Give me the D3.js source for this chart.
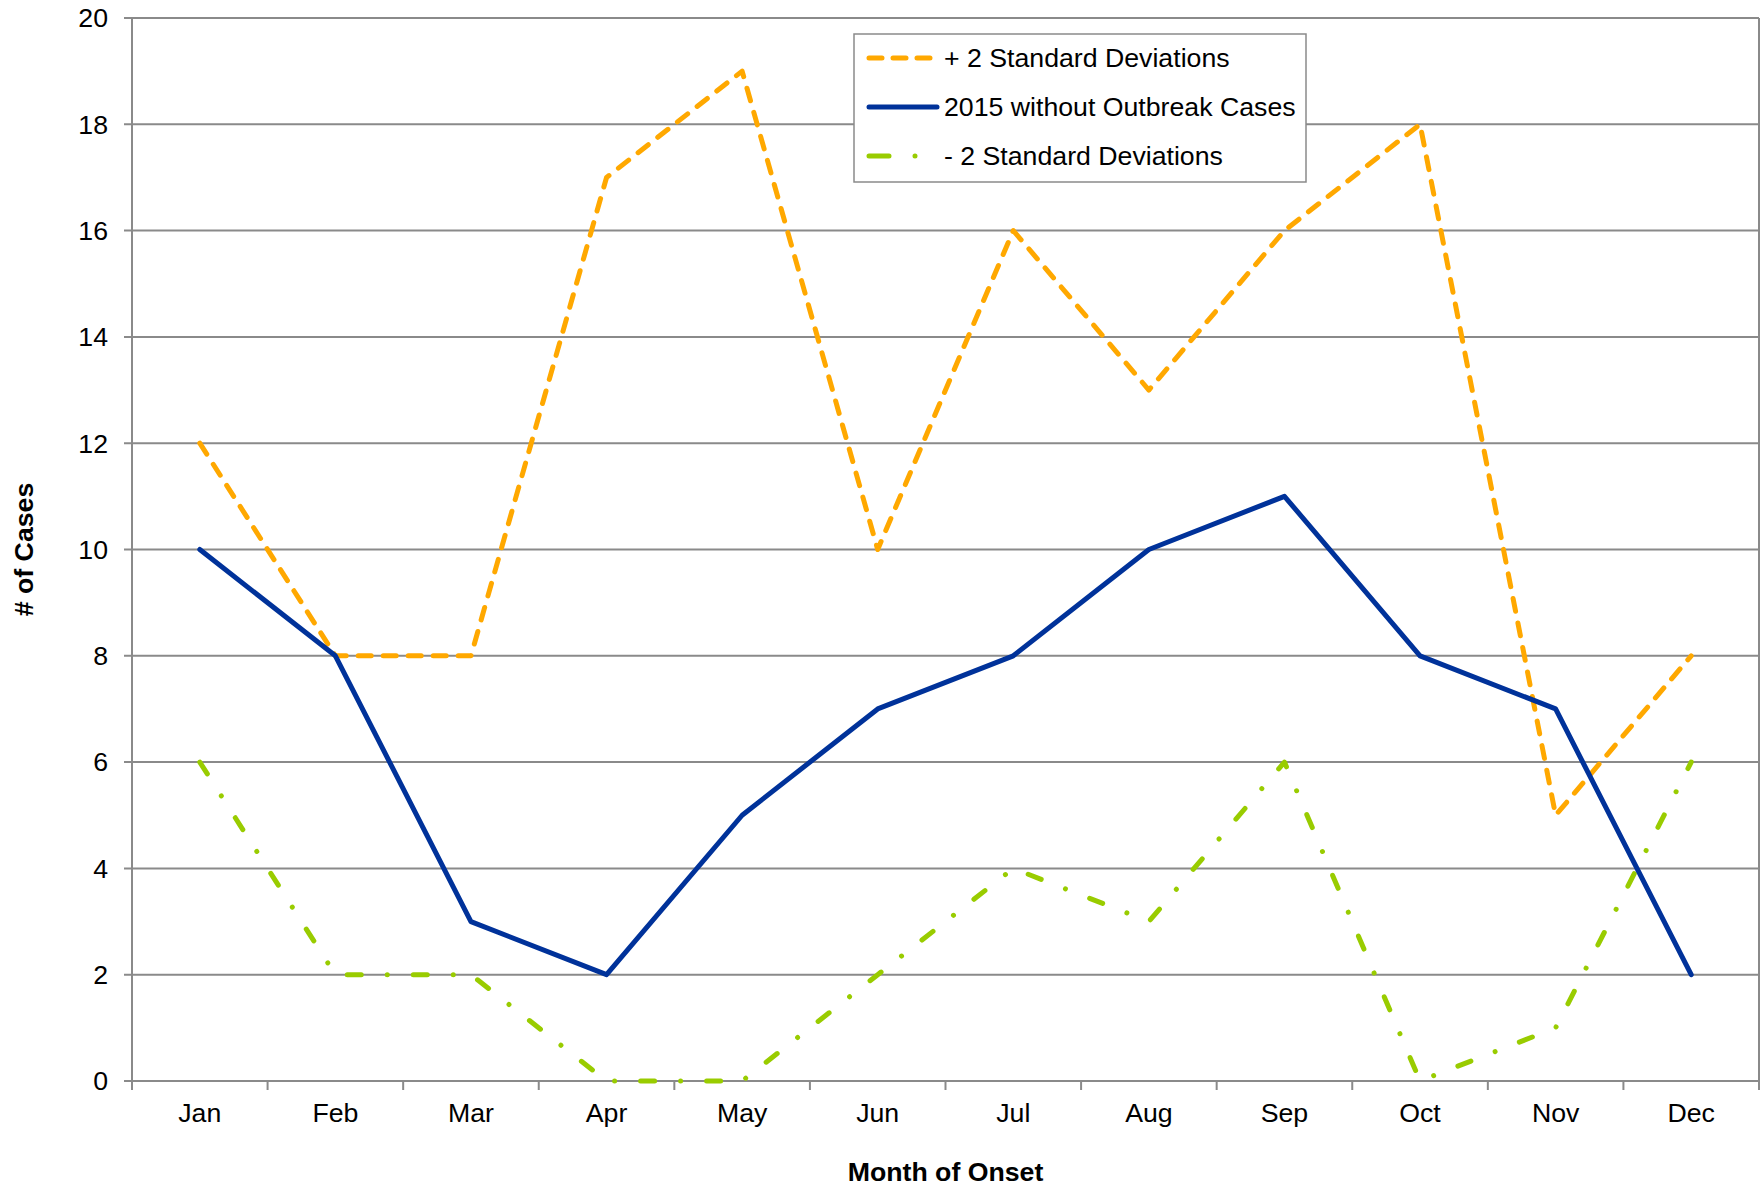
<!DOCTYPE html>
<html><head><meta charset="utf-8">
<script src="https://cdn.jsdelivr.net/npm/d3@7"></script>
<style>body{margin:0;background:#fff}svg{display:block}text{font-family:"Liberation Sans",Arial,sans-serif;fill:#000}</style>
</head><body>
<script>
const months = ["Jan","Feb","Mar","Apr","May","Jun","Jul","Aug","Sep","Oct","Nov","Dec"];
const plus2SD = [12,8,8,17,19,10,16,13,16,18,5,8];
const cases2015 = [10,8,3,2,5,7,8,10,11,8,7,2];
const minus2SD = [6,2,2,0,0,2,4,3,6,0,1,6];
const yTicks = [0,2,4,6,8,10,12,14,16,18,20];
const seriesNames = ["+ 2 Standard Deviations","2015 without Outbreak Cases","- 2 Standard Deviations"];

const W=1760,H=1188;
const L=132,R=1759,T=18,B=1081;
const FS=26.7;
const svg=d3.select("body").append("svg").attr("width",W).attr("height",H);
const x=d3.scaleBand().domain(months).range([L,R]).padding(0);
const y=d3.scaleLinear().domain([0,20]).range([B,T]);
const grid="#8a8a8a";

svg.append("g").selectAll("line").data(yTicks).join("line")
  .attr("x1",L-8).attr("x2",R).attr("y1",d=>y(d)).attr("y2",d=>y(d))
  .attr("stroke",grid).attr("stroke-width",2);
svg.append("line").attr("x1",R).attr("x2",R).attr("y1",T).attr("y2",B).attr("stroke",grid).attr("stroke-width",2);
svg.append("line").attr("x1",L).attr("x2",L).attr("y1",T).attr("y2",B+9).attr("stroke",grid).attr("stroke-width",2);
const edges=months.map(m=>x(m)).concat([R]);
svg.append("g").selectAll("line").data(edges).join("line")
  .attr("x1",d=>d).attr("x2",d=>d).attr("y1",B).attr("y2",B+9)
  .attr("stroke",grid).attr("stroke-width",2);
svg.append("g").selectAll("text").data(yTicks).join("text")
  .attr("x",108).attr("y",d=>y(d)).attr("dy","0.35em").attr("text-anchor","end")
  .attr("font-size",FS).text(d=>d);
svg.append("g").selectAll("text").data(months).join("text")
  .attr("x",d=>x(d)+x.bandwidth()/2).attr("y",1122).attr("text-anchor","middle")
  .attr("font-size",FS).text(d=>d);
svg.append("text").attr("x",(L+R)/2).attr("y",1181).attr("text-anchor","middle")
  .attr("font-size",FS).attr("font-weight","bold").text("Month of Onset");
svg.append("text").attr("transform",`translate(33,${(T+B)/2}) rotate(-90)`).attr("text-anchor","middle")
  .attr("font-size",FS).attr("font-weight","bold").text("# of Cases");

const line=d3.line().x((d,i)=>x(months[i])+x.bandwidth()/2).y(d=>y(d));
const styles=[
  {data:plus2SD,color:"#FFA800",dash:"13,12"},
  {data:cases2015,color:"#00329A",dash:null},
  {data:minus2SD,color:"#99CC00",dash:"14,26,0.01,26"}
];
[2,0,1].forEach(k=>{
  const s=styles[k];
  svg.append("path").datum(s.data).attr("d",line).attr("fill","none")
    .attr("stroke",s.color).attr("stroke-width",5)
    .attr("stroke-linecap","round").attr("stroke-linejoin","round")
    .attr("stroke-dasharray",s.dash);
});

const lg=svg.append("g");
lg.append("rect").attr("x",854).attr("y",34).attr("width",452).attr("height",148)
  .attr("fill","#fff").attr("stroke",grid).attr("stroke-width",1.5);
const rowsY=[58,107,156];
const legendDash=["13,11",null,"20,26,0.01,26"];
seriesNames.forEach((n,i)=>{
  lg.append("line").attr("x1",869).attr("x2",937).attr("y1",rowsY[i]).attr("y2",rowsY[i])
    .attr("stroke",styles[i].color).attr("stroke-width",5).attr("stroke-linecap","round")
    .attr("stroke-dasharray",legendDash[i]);
  lg.append("text").attr("x",944).attr("y",rowsY[i]).attr("dy","0.35em")
    .attr("font-size",FS).text(n);
});
</script>
</body></html>
